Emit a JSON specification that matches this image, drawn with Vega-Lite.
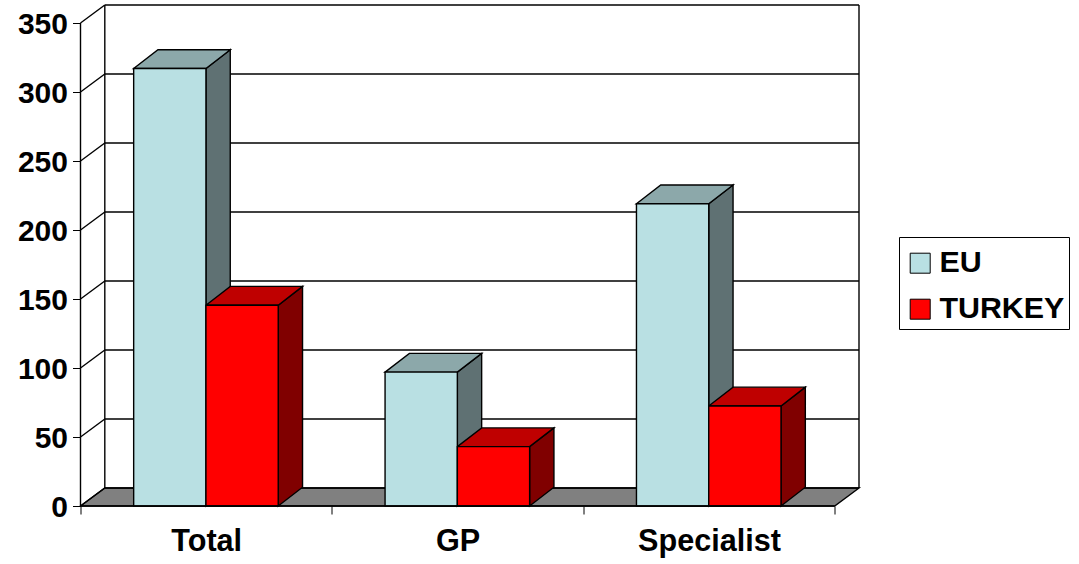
{
  "$schema": "https://vega.github.io/schema/vega-lite/v6.json",
  "width": 778.5,
  "height": 501,
  "autosize": "none",
  "padding": {"left": 80.5, "top": 5, "right": 220, "bottom": 58},
  "background": "white",
  "config": {
    "view": {"stroke": null},
    "font": "Liberation Sans"
  },
  "params": [
    {"name": "depthX", "value": 0.0967},
    {"name": "depthY", "value": 13},
    {"name": "barDepthY", "value": 13.6},
    {"name": "barW", "value": 0.2875},
    {"name": "barInset", "value": 0.2115}
  ],
  "datasets": {
    "bars": [
      {"group": "Total", "series": "EU", "value": 317},
      {"group": "Total", "series": "TURKEY", "value": 145.5},
      {"group": "GP", "series": "EU", "value": 97},
      {"group": "GP", "series": "TURKEY", "value": 43},
      {"group": "Specialist", "series": "EU", "value": 219},
      {"group": "Specialist", "series": "TURKEY", "value": 72.5}
    ],
    "ticks": [
      {"value": 0}, {"value": 50}, {"value": 100}, {"value": 150},
      {"value": 200}, {"value": 250}, {"value": 300}, {"value": 350}
    ],
    "floor": [
      {"xa": 0, "ya": 0, "yb": 0},
      {"xa": 0.0967, "ya": 0, "yb": 13},
      {"xa": 3, "ya": 0, "yb": 13},
      {"xa": 3.0967, "ya": 13, "yb": 13}
    ],
    "frame": [
      {"edge": "value axis", "xa": 0, "xb": 0, "ya": 0, "yb": 350},
      {"edge": "back left", "xa": 0.0967, "xb": 0.0967, "ya": 13, "yb": 363},
      {"edge": "back right", "xa": 3.0967, "xb": 3.0967, "ya": 13, "yb": 363},
      {"edge": "category axis", "xa": 0, "xb": 3, "ya": 0, "yb": 0}
    ]
  },
  "encoding": {
    "x": {
      "field": "xa",
      "type": "quantitative",
      "scale": {"domain": [0, 3.0967], "nice": false, "zero": false},
      "axis": {
        "title": null,
        "grid": false,
        "domain": false,
        "values": [0, 0.5, 1, 1.5, 2, 2.5, 3],
        "labelExpr": "datum.value === 0.5 ? 'Total' : datum.value === 1.5 ? 'GP' : datum.value === 2.5 ? 'Specialist' : ''",
        "labelOverlap": false,
        "labelBound": false,
        "labelFlush": false,
        "labelFont": "Liberation Sans",
        "labelFontWeight": "bold",
        "labelFontSize": 30.6,
        "labelColor": "black",
        "labelPadding": 12,
        "tickSize": 8,
        "tickColor": "black",
        "tickOpacity": {"condition": {"test": "datum.value % 1 === 0", "value": 1}, "value": 0}
      }
    },
    "y": {
      "field": "ya",
      "type": "quantitative",
      "scale": {"domain": [0, 363], "nice": false, "zero": false},
      "axis": {
        "title": null,
        "grid": false,
        "domain": false,
        "values": [0, 50, 100, 150, 200, 250, 300, 350],
        "labelFont": "Liberation Sans",
        "labelFontWeight": "bold",
        "labelFontSize": 30,
        "labelColor": "black",
        "labelPadding": 5,
        "labelOffset": 1.5,
        "tickSize": 8,
        "tickColor": "black"
      }
    }
  },
  "layer": [
    {
      "data": {"name": "floor"},
      "mark": {"type": "area", "fill": "#808080", "stroke": "black", "strokeWidth": 1.4},
      "encoding": {"y2": {"field": "yb"}}
    },
    {
      "description": "Horizontal gridlines on the back wall",
      "data": {"name": "ticks"},
      "transform": [
        {"calculate": "depthX", "as": "xa"},
        {"calculate": "3 + depthX", "as": "xb"},
        {"calculate": "datum.value + depthY", "as": "ya"},
        {"calculate": "datum.value + depthY", "as": "yb"}
      ],
      "mark": {"type": "rule", "stroke": "black", "strokeWidth": 1.4},
      "encoding": {"x2": {"field": "xb"}, "y2": {"field": "yb"}}
    },
    {
      "description": "Diagonal gridlines on the left wall",
      "data": {"name": "ticks"},
      "transform": [
        {"calculate": "0", "as": "xa"},
        {"calculate": "depthX", "as": "xb"},
        {"calculate": "datum.value", "as": "ya"},
        {"calculate": "datum.value + depthY", "as": "yb"}
      ],
      "mark": {"type": "rule", "stroke": "black", "strokeWidth": 1.4},
      "encoding": {"x2": {"field": "xb"}, "y2": {"field": "yb"}}
    },
    {
      "data": {"name": "frame"},
      "transform": [{"filter": "datum.edge !== 'category axis'"}],
      "mark": {"type": "rule", "stroke": "black", "strokeWidth": 1.4},
      "encoding": {"x2": {"field": "xb"}, "y2": {"field": "yb"}}
    },
    {
      "description": "Right-hand side face of each bar",
      "data": {"name": "bars"},
      "transform": [
        {"calculate": "[0, 1]", "as": "t"},
        {"flatten": ["t"]},
        {"calculate": "indexof(['Total', 'GP', 'Specialist'], datum.group) + barInset + (datum.series === 'TURKEY' ? barW : 0)", "as": "left"},
        {"calculate": "datum.left + barW + datum.t * depthX", "as": "xa"},
        {"calculate": "datum.t * barDepthY", "as": "ya"},
        {"calculate": "datum.value + datum.t * barDepthY", "as": "yb"}
      ],
      "mark": {"type": "area", "stroke": "black", "strokeWidth": 1.4},
      "encoding": {
        "y2": {"field": "yb"},
        "detail": [{"field": "group"}, {"field": "series"}],
        "fill": {"condition": {"test": "datum.series === 'EU'", "value": "#5F7173"}, "value": "#800000"}
      }
    },
    {
      "description": "Top face of each bar",
      "data": {"name": "bars"},
      "transform": [
        {"calculate": "[0, 1, 2, 3]", "as": "t"},
        {"flatten": ["t"]},
        {"calculate": "indexof(['Total', 'GP', 'Specialist'], datum.group) + barInset + (datum.series === 'TURKEY' ? barW : 0)", "as": "left"},
        {"calculate": "[datum.left, datum.left + depthX, datum.left + barW, datum.left + barW + depthX][datum.t]", "as": "xa"},
        {"calculate": "datum.t < 3 ? datum.value : datum.value + barDepthY", "as": "ya"},
        {"calculate": "datum.t < 1 ? datum.value : datum.value + barDepthY", "as": "yb"}
      ],
      "mark": {"type": "area", "stroke": "black", "strokeWidth": 1.4},
      "encoding": {
        "y2": {"field": "yb"},
        "detail": [{"field": "group"}, {"field": "series"}],
        "fill": {"condition": {"test": "datum.series === 'EU'", "value": "#8CA8AA"}, "value": "#BF0000"}
      }
    },
    {
      "description": "Front face of each bar, which also feeds the legend",
      "data": {"name": "bars"},
      "transform": [
        {"calculate": "indexof(['Total', 'GP', 'Specialist'], datum.group) + barInset + (datum.series === 'TURKEY' ? barW : 0)", "as": "xa"},
        {"calculate": "datum.xa + barW", "as": "xb"},
        {"calculate": "0", "as": "ya"}
      ],
      "mark": {"type": "rect", "stroke": "black", "strokeWidth": 1.4},
      "encoding": {
        "x2": {"field": "xb"},
        "y2": {"field": "value"},
        "fill": {
          "field": "series",
          "type": "nominal",
          "scale": {"domain": ["EU", "TURKEY"], "range": ["#B9E0E3", "#FF0000"]},
          "legend": {
            "title": " ",
            "titleFontSize": 5,
            "titleLimit": 300,
            "titlePadding": 2,
            "orient": "none",
            "legendX": 818.5,
            "legendY": 232,
            "strokeColor": "black",
            "fillColor": "white",
            "padding": 4,
            "symbolType": "square",
            "symbolSize": 400,
            "symbolOffset": 2,
            "symbolStrokeColor": "black",
            "symbolStrokeWidth": 1,
            "labelFont": "Liberation Sans",
            "labelFontWeight": "bold",
            "labelFontSize": 30.4,
            "labelColor": "black",
            "labelOffset": 4,
            "rowPadding": 15,
            "labelLimit": 300
          }
        }
      }
    },
    {
      "data": {"name": "frame"},
      "transform": [{"filter": "datum.edge === 'category axis'"}],
      "mark": {"type": "rule", "stroke": "black", "strokeWidth": 1.4},
      "encoding": {"x2": {"field": "xb"}, "y2": {"field": "yb"}}
    }
  ]
}
